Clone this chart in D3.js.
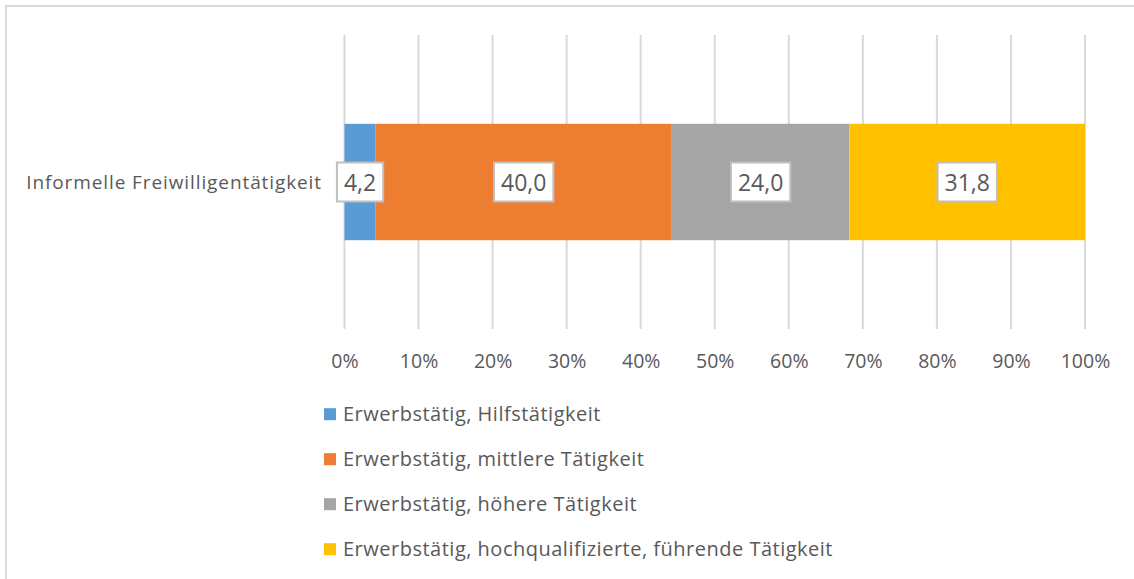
<!DOCTYPE html>
<html>
<head>
<meta charset="utf-8">
<script src="https://cdn.jsdelivr.net/npm/d3@7/dist/d3.min.js"></script>
<style>
  html, body { margin: 0; padding: 0; background: #fff; }
  svg { display: block; }
  text { font-family: "Open Sans", "Noto Sans", sans-serif; fill: #595959; }
</style>
</head>
<body>
<svg id="chart" width="1134" height="579"></svg>
<script>
// Stacked 100% bar: share by occupational level
const categories = ["Informelle Freiwilligentätigkeit"];
const seriesNames = [
  "Erwerbstätig, Hilfstätigkeit",
  "Erwerbstätig, mittlere Tätigkeit",
  "Erwerbstätig, höhere Tätigkeit",
  "Erwerbstätig, hochqualifizierte, führende Tätigkeit"
];
const seriesValues = [4.2, 40.0, 24.0, 31.8];
const seriesColors = ["#5b9bd5", "#ed7d31", "#a5a5a5", "#ffc000"];
const tickValues = [0, 10, 20, 30, 40, 50, 60, 70, 80, 90, 100];

const svg = d3.select("#chart");

// outer frame (right and bottom edges lie outside the visible area)
svg.append("rect")
  .attr("x", 6).attr("y", 6)
  .attr("width", 1400).attr("height", 800)
  .attr("fill", "none")
  .attr("stroke", "#d9d9d9")
  .attr("stroke-width", 2);

const plot = { left: 344.5, right: 1085, top: 35, bottom: 329 };

const x = d3.scaleLinear().domain([0, 100]).range([plot.left, plot.right]);
const y = d3.scaleBand().domain(categories)
  .range([plot.top, plot.bottom])
  .paddingInner(0).paddingOuter(0.763);

// vertical gridlines
svg.append("g")
  .selectAll("line")
  .data(tickValues)
  .join("line")
  .attr("x1", d => x(d)).attr("x2", d => x(d))
  .attr("y1", plot.top).attr("y2", plot.bottom)
  .attr("stroke", "#d9d9d9")
  .attr("stroke-width", 2);

// x axis labels
const xAxis = d3.axisBottom(x)
  .tickValues(tickValues)
  .tickFormat(d => d + "%")
  .tickSize(0)
  .tickPadding(0);
const gx = svg.append("g")
  .attr("transform", `translate(0, ${plot.bottom})`)
  .call(xAxis);
gx.select(".domain").remove();
gx.selectAll("text")
  .attr("y", 39).attr("dy", null)
  .style("font-size", "19.5px")
  .attr("fill", "#595959");

// stacked segments
const stackData = categories.map(c => {
  const row = { category: c };
  seriesNames.forEach((s, i) => { row[s] = seriesValues[i]; });
  return row;
});
const stack = d3.stack().keys(seriesNames)(stackData);

const layers = svg.append("g")
  .selectAll("g")
  .data(stack)
  .join("g")
  .attr("fill", (d, i) => seriesColors[i]);

layers.selectAll("rect")
  .data(d => d)
  .join("rect")
  .attr("x", d => x(d[0]))
  .attr("width", d => x(d[1]) - x(d[0]))
  .attr("y", d => y(d.data.category))
  .attr("height", y.bandwidth());

// category label
svg.append("g")
  .selectAll("text")
  .data(categories)
  .join("text")
  .attr("x", 322)
  .attr("y", d => y(d) + y.bandwidth() / 2 + 7)
  .attr("text-anchor", "end")
  .style("font-size", "19px")
  .style("letter-spacing", "0.9px")
  .text(d => d);

// value labels in boxes
const fmt = v => d3.format(".1f")(v).replace(".", ",");
const labels = svg.append("g")
  .selectAll("g")
  .data(stack.map(s => ({ seg: s[0], value: s[0][1] - s[0][0] })))
  .join("g")
  .attr("transform", d => `translate(${(x(d.seg[0]) + x(d.seg[1])) / 2}, ${y(d.seg.data.category) + y.bandwidth() / 2})`);

labels.append("rect").attr("class", "box");
labels.append("text")
  .attr("text-anchor", "middle")
  .attr("y", 8.5)
  .style("font-size", "23px")
  .text(d => fmt(d.value));
labels.each(function() {
  const g = d3.select(this);
  const w = g.select("text").node().getComputedTextLength();
  g.select("rect")
    .attr("x", -w / 2 - 7).attr("y", -19.5)
    .attr("width", w + 14).attr("height", 39)
    .attr("fill", "#fff")
    .attr("stroke", "#bfbfbf")
    .attr("stroke-width", 2);
});

// legend
const legend = svg.append("g")
  .selectAll("g")
  .data(seriesNames)
  .join("g")
  .attr("transform", (d, i) => `translate(324, ${420.7 + i * 45})`);
legend.append("rect")
  .attr("x", 0).attr("y", -12.5)
  .attr("width", 12).attr("height", 12)
  .attr("fill", (d, i) => seriesColors[i]);
legend.append("text")
  .attr("x", 19).attr("y", 0)
  .style("font-size", "20px")
  .style("letter-spacing", "0.5px")
  .text(d => d);
</script>
</body>
</html>
